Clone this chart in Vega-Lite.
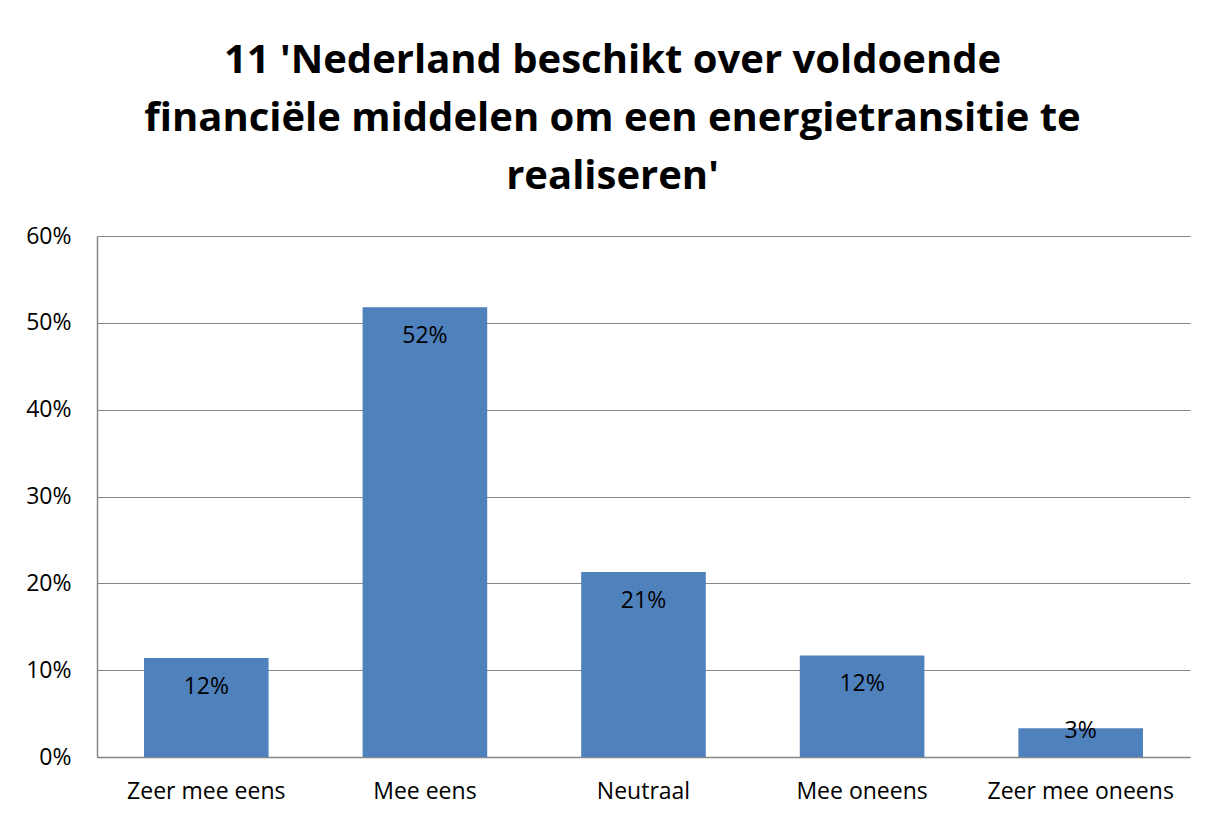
{
  "$schema": "https://vega.github.io/schema/vega-lite/v6.json",
  "width": 1093,
  "height": 521,
  "autosize": {"type": "none"},
  "padding": {"left": 97, "top": 236, "right": 25, "bottom": 64},
  "background": "white",
  "title": {
    "text": ["11 'Nederland beschikt over voldoende", "financiële middelen om een energietransitie te", "realiseren'"],
    "font": "Open Sans",
    "fontSize": 40,
    "fontWeight": "bold",
    "color": "#000000",
    "lineHeight": 58,
    "anchor": "middle",
    "frame": "group",
    "dx": -31,
    "offset": 28
  },
  "data": {
    "values": [
      {"categorie": "Zeer mee eens", "waarde": 0.114, "label": "12%"},
      {"categorie": "Mee eens", "waarde": 0.518, "label": "52%"},
      {"categorie": "Neutraal", "waarde": 0.213, "label": "21%"},
      {"categorie": "Mee oneens", "waarde": 0.117, "label": "12%"},
      {"categorie": "Zeer mee oneens", "waarde": 0.033, "label": "3%"}
    ]
  },
  "encoding": {
    "x": {
      "field": "categorie",
      "type": "nominal",
      "sort": null,
      "scale": {"paddingInner": 0.43, "paddingOuter": 0.215},
      "axis": {
        "title": null,
        "labelAngle": 0,
        "labelFont": "Open Sans",
        "labelFontSize": 23,
        "labelColor": "#000000",
        "labelPadding": 23,
        "labelLimit": 0,
        "labelOverlap": false,
        "ticks": false,
        "domainColor": "#868686",
        "domainWidth": 1.5,
        "grid": false
      }
    },
    "y": {
      "field": "waarde",
      "type": "quantitative",
      "scale": {"domain": [0, 0.6]},
      "axis": {
        "title": null,
        "format": ".0%",
        "values": [0, 0.1, 0.2, 0.3, 0.4, 0.5, 0.6],
        "labelFont": "Open Sans",
        "labelFontSize": 23,
        "labelColor": "#000000",
        "labelPadding": 26,
        "ticks": false,
        "domainColor": "#868686",
        "domainWidth": 1.5,
        "grid": true,
        "gridColor": "#868686",
        "gridWidth": 1.2
      }
    }
  },
  "layer": [
    {"mark": {"type": "bar", "color": "#4F81BD"}},
    {
      "transform": [{"filter": "datum.waarde > 0.05"}],
      "mark": {"type": "text", "baseline": "middle", "dy": 29, "font": "Open Sans", "fontSize": 23, "color": "#000000"},
      "encoding": {"text": {"field": "label"}}
    },
    {
      "transform": [{"filter": "datum.waarde <= 0.05"}],
      "mark": {"type": "text", "baseline": "middle", "dy": 3, "font": "Open Sans", "fontSize": 23, "color": "#000000"},
      "encoding": {"text": {"field": "label"}}
    }
  ],
  "config": {"view": {"stroke": null}}
}
